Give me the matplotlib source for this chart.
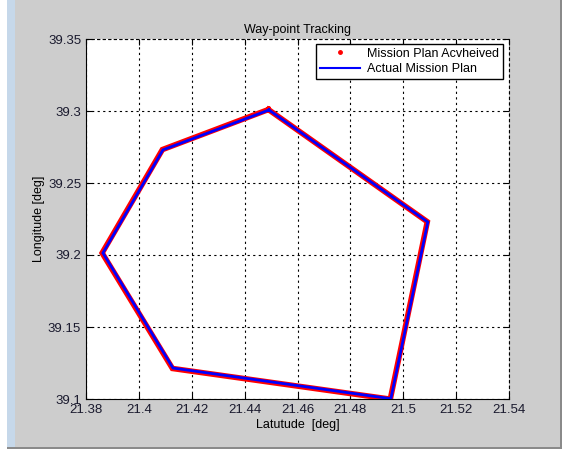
import matplotlib.pyplot as plt
from matplotlib.lines import Line2D
from matplotlib.patches import Rectangle

plt.rcParams['font.family'] = ['Liberation Sans', 'DejaVu Sans']

# way-points of the planned mission (latitude, longitude)
plan_lat = [21.4492, 21.5093, 21.4953, 21.4129, 21.3864, 21.4091, 21.4492]
plan_lon = [39.3007, 39.2229, 39.1002, 39.1215, 39.2014, 39.2730, 39.3007]

# achieved track (slightly off the plan)
ach_lat = [21.4490, 21.5091, 21.4951, 21.4127, 21.3861, 21.4089, 21.4490]
ach_lon = [39.3010, 39.2231, 39.0999, 39.1212, 39.2014, 39.2732, 39.3010]

xticks = [21.38, 21.4, 21.42, 21.44, 21.46, 21.48, 21.5, 21.52, 21.54]
xlabels = ["21.38", "21.4", "21.42", "21.44", "21.46", "21.48", "21.5", "21.52", "21.54"]
yticks = [39.1, 39.15, 39.2, 39.25, 39.3, 39.35]
ylabels = ["39.1", "39.15", "39.2", "39.25", "39.3", "39.35"]

fig = plt.figure(figsize=(5.63, 4.51), dpi=100, facecolor="white")

# window frame look
W, H = 563.0, 451.0
frame = [
    ((15, 4), 546, 447, "#cdcdcd"),
    ((7, 2), 8, 449, "#c6d8ea"),
    ((7, 2), 555, 2, "#8a8a8a"),
    ((560, 2), 2, 449, "#8a8a8a"),
]
for (x0, y0), w, h, c in frame:
    fig.add_artist(Rectangle((x0 / W, y0 / H), w / W, h / H, transform=fig.transFigure,
                             facecolor=c, edgecolor="none", zorder=-10))

ax = fig.add_axes([86 / W, 52 / H, 423 / W, 360 / H])
ax.set_facecolor("white")

ax.plot(ach_lat, ach_lon, color="red", linewidth=4, solid_joinstyle="miter", zorder=3)
ax.plot(plan_lat, plan_lon, color="blue", linewidth=2, solid_joinstyle="miter", zorder=4)

ax.set_xlim(21.38, 21.54)
ax.set_ylim(39.1, 39.35)
ax.set_xticks(xticks)
ax.set_xticklabels(xlabels)
ax.set_yticks(yticks)
ax.set_yticklabels(ylabels)
ax.tick_params(direction="in", top=True, right=True, labelsize=9.5, colors="black",
               labelcolor="#1a1a2e", length=4, width=0.8)
ax.grid(True, color="black", linestyle=(0, (2, 3)), linewidth=0.8)
for side in ["top", "right"]:
    ax.spines[side].set_linestyle((0, (2, 3)))
for s in ax.spines.values():
    s.set_linewidth(0.8)

ax.set_title("Way-point Tracking", fontsize=9, pad=4)
ax.set_xlabel("Latutude  [deg]", fontsize=9, labelpad=2)
ax.set_ylabel("Longitude [deg]", fontsize=9, labelpad=2)

handles = [
    Line2D([], [], color="red", marker=".", linestyle="none", markersize=5),
    Line2D([], [], color="blue", linewidth=1.5),
]
ax.legend(handles, ["Mission Plan Acvheived", "Actual Mission Plan"], loc="upper right",
          bbox_to_anchor=(0.986, 0.986), fontsize=9, frameon=True, fancybox=False,
          edgecolor="black", framealpha=1, handlelength=3.2, handletextpad=0.6,
          borderpad=0.3, labelspacing=0.25, borderaxespad=0)

fig.savefig("out.png", dpi=100, facecolor=fig.get_facecolor())
